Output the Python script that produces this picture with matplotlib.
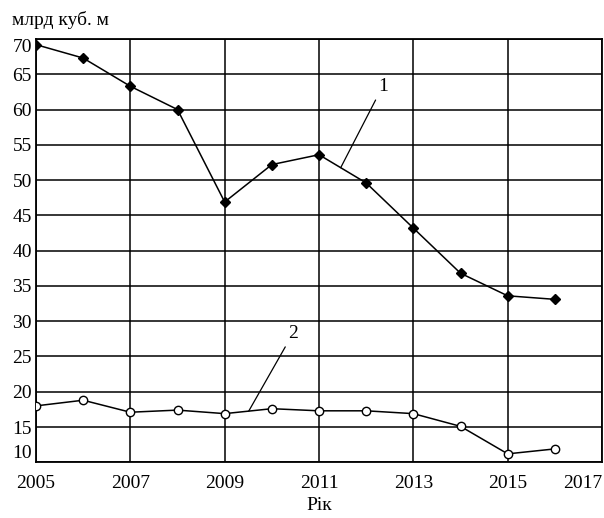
import numpy as np
import matplotlib.pyplot as plt

years = np.arange(2005, 2017)
series1 = [69.2, 67.3, 63.3, 60.0, 46.9, 52.2, 53.6, 49.6, 43.2, 36.8, 33.6, 33.1]
series2 = [18.0, 18.8, 17.1, 17.4, 16.9, 17.6, 17.3, 17.3, 16.9, 15.1, 11.2, 11.9]
xticks = [2005, 2007, 2009, 2011, 2013, 2015, 2017]
yticks = list(range(10, 75, 5))

plt.rcParams['font.family'] = ['Liberation Serif', 'DejaVu Serif']

fig = plt.figure(figsize=(6.04, 5.18), dpi=100)
ax = fig.add_axes([0.0596, 0.1075, 0.9371, 0.8172])

ax.plot(years, series1, color='black', lw=1.1, marker='D', ms=5,
        mfc='black', mec='black', zorder=3)
ax.plot(years, series2, color='black', lw=1.1, marker='o', ms=6,
        mfc='white', mec='black', mew=1.0, zorder=3)

ax.set_xlim(2005, 2017)
ax.set_ylim(10, 70)
ax.set_xticks(xticks)
ax.set_yticks(yticks)
ax.grid(True, color='black', lw=1.1)
for s in ax.spines.values():
    s.set_linewidth(1.3)
ax.tick_params(length=0, labelsize=14, pad=3)
ax.tick_params(axis='x', pad=9)
labels = ax.get_xticklabels()
labels[-1].set_horizontalalignment('right')
ylabs = ax.get_yticklabels()
ylabs[-1].set_verticalalignment('top')
ylabs[0].set_verticalalignment('bottom')

ax.set_xlabel('Рік', fontsize=14, labelpad=4)
fig.text(0.02, 0.962, 'млрд куб. м', fontsize=14, ha='left', va='center')

# leader lines for the curve numbers
x1 = 2011.46
y1 = np.interp(x1, years, series1)
ax.annotate('1', xy=(x1, y1), xytext=(2012.35, 63.3), fontsize=14,
            ha='center', va='center',
            arrowprops=dict(arrowstyle='-', color='black', lw=0.9, shrinkA=2, shrinkB=0))
x2 = 2009.51
y2 = np.interp(x2, years, series2)
ax.annotate('2', xy=(x2, y2), xytext=(2010.45, 28.3), fontsize=14,
            ha='center', va='center',
            arrowprops=dict(arrowstyle='-', color='black', lw=0.9, shrinkA=2, shrinkB=0))

fig.savefig('out.png', dpi=100)
